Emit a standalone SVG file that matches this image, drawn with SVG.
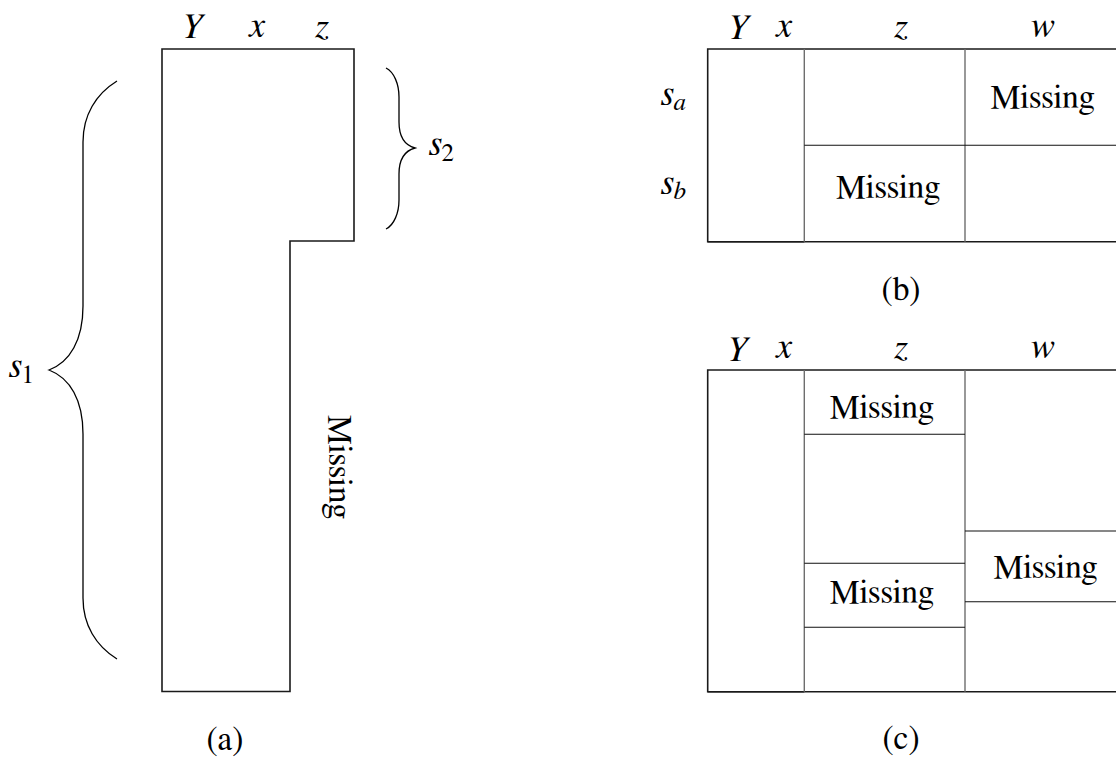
<svg xmlns="http://www.w3.org/2000/svg" width="1116" height="758" viewBox="0 0 1116 758">
<style>
  .t { font-family: "FreeSerif", "Tinos", "Liberation Serif", serif; font-size: 33.5px; fill: #000; }
  .m { font-family: "FreeSerif", "Liberation Serif", serif; font-style: italic; font-size: 36px; fill: #000; }
  .sub { font-style: normal; font-size: 25px; }
  .subi { font-style: italic; font-size: 25px; }
  .c { text-anchor: middle; }
  .outer { fill: none; stroke: #1a1a1a; stroke-width: 1.6; }
  .vin { fill: none; stroke: #6e6e6e; stroke-width: 1.4; }
  .hin { fill: none; stroke: #111; stroke-width: 1.1; }
  .brace { fill: none; stroke: #000; stroke-width: 1.3; }
</style>

<g id="panel-a">
  <path class="outer" d="M162,49 H354 V241 H290 V691.5 H162 Z"/>
  <text class="m c" x="192" y="38">Y</text>
  <text class="m c" x="257" y="37">x</text>
  <text class="m c" x="322" y="37">z</text>
  <text class="t c" transform="translate(329,467) rotate(90)">Missing</text>
  <text class="t c" x="225" y="750">(a)</text>
</g>

<g id="brace-s2">
  <path class="brace" d="M386,68 C394,72 399,84 399,97 V122 C399,136 404,145 415,148 C404,151 399,160 399,174 V200 C399,213 394,225 386,229"/>
  <text class="m" x="429" y="155">s<tspan class="sub" dy="6">2</tspan></text>
</g>

<g id="brace-s1">
  <path class="brace" d="M117,81 C96,94 83,115 83,142 V306 C83,340 70,362 49,370 C70,378 83,400 83,434 V598 C83,625 96,646 117,659"/>
  <text class="m" x="9" y="377">s<tspan class="sub" dy="6">1</tspan></text>
</g>

<g id="panel-b">
  <path class="outer" d="M1120,49 H707.7 V241.7 H1120"/>
  <path class="outer" d="M707.7,241.7 H804.3" stroke-width="2.4"/>
  <path class="vin" d="M804.3,49 V241.7 M965,49 V241.7"/>
  <path class="hin" d="M804.3,145.3 H1120"/>
  <text class="m c" x="738" y="39">Y</text>
  <text class="m c" x="784" y="37">x</text>
  <text class="m c" x="901" y="37">z</text>
  <text class="m c" x="1042" y="37">w</text>
  <text class="m" x="661" y="105">s<tspan class="subi" dy="5">a</tspan></text>
  <text class="m" x="661" y="194">s<tspan class="subi" dy="5">b</tspan></text>
  <text class="t c" x="1042.5" y="108">Missing</text>
  <text class="t c" x="888" y="198">Missing</text>
  <text class="t c" x="901" y="300">(b)</text>
</g>

<g id="panel-c">
  <path class="outer" d="M1120,370 H707.7 V691.7 H1120"/>
  <path class="outer" d="M707.7,691.7 H804.3" stroke-width="2.4"/>
  <path class="vin" d="M804.3,370 V691.7 M965,370 V691.7"/>
  <path class="hin" d="M804.3,434.3 H965 M804.3,563.3 H965 M804.3,627.3 H965 M965,531 H1120 M965,601.7 H1120"/>
  <text class="m c" x="737" y="361">Y</text>
  <text class="m c" x="784" y="358">x</text>
  <text class="m c" x="901" y="358">z</text>
  <text class="m c" x="1042" y="358">w</text>
  <text class="t c" x="881.7" y="417.5">Missing</text>
  <text class="t c" x="881.7" y="603">Missing</text>
  <text class="t c" x="1045.3" y="578">Missing</text>
  <text class="t c" x="901" y="749">(c)</text>
</g>
</svg>
